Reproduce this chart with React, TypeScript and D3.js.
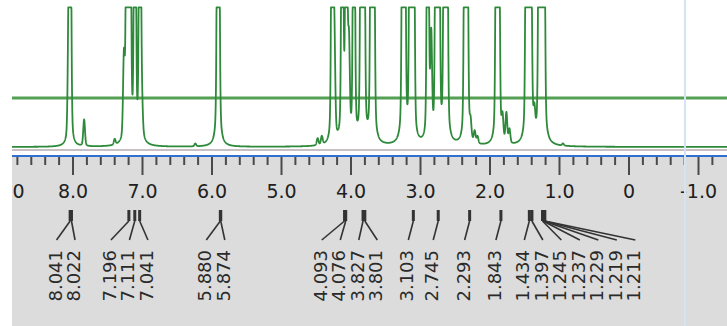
import * as d3 from 'd3';
import React from 'react';

// axis ticks (ppm) and their printed labels
const majorTicks = [9, 8, 7, 6, 5, 4, 3, 2, 1, 0, -1];
const majorLabels = ['9.0', '8.0', '7.0', '6.0', '5.0', '4.0', '3.0', '2.0', '1.0', '0', '-1.0'];

// spectrum lines: shift (ppm) and height (100 = top of window)
const peakShifts = [
  8.062, 8.04, 7.84, 7.40, 7.267, 7.224, 7.18, 7.109, 7.037, 7.009, 6.24,
  5.915, 5.905, 4.48, 4.42, 4.27, 4.24, 4.125, 4.068, 4.03, 3.958, 3.852, 3.815, 3.708, 3.675,
  3.254, 3.23, 3.148, 3.101, 2.895, 2.846, 2.775, 2.737, 2.655, 2.622,
  2.36, 2.33, 2.28, 2.22, 2.18, 1.905, 1.875, 1.82, 1.764, 1.72,
  1.475, 1.44, 1.41, 1.362, 1.29, 1.255, 1.225, 0.95
];
const peakHeights = [
  85, 260, 19, 4, 57, 300, 300, 300, 300, 22, 2,
  300, 200, 5, 6, 300, 70, 300, 300, 64, 300, 300, 300, 300, 300,
  300, 300, 300, 300, 300, 70, 300, 300, 300, 300,
  300, 250, 12, 8, 5, 300, 250, 16, 21, 10,
  300, 300, 150, 16, 300, 300, 300, 1.5
];

// picked peaks printed under the ruler
const pickedPeaks = [
  8.041, 8.022, 7.196, 7.111, 7.041, 5.880, 5.874,
  4.093, 4.076, 3.827, 3.801, 3.103, 2.745, 2.293, 1.843,
  1.434, 1.397, 1.245, 1.237, 1.229, 1.219, 1.211
];

const width = 727;
const height = 326;
const left = 12;

export default function App() {
  const x = d3.scaleLinear().domain([8, 0]).range([73, 629]);
  const y = d3.scaleLinear().domain([0, 100]).range([147, 8]);

  // trace: pseudo-voigt lines, flattened where it leaves the window
  const sigma = 0.012;
  const gamma = 0.02;
  const eta = 0.18;
  const grid = d3.range(9.3, -1.7, -0.002);
  const trace = grid.map((p) => {
    let v = 0;
    peakShifts.forEach((c, i) => {
      const d = p - c;
      const g = Math.exp(-(d * d) / (2 * sigma * sigma));
      const l = (gamma * gamma) / (d * d + gamma * gamma);
      v += peakHeights[i] * ((1 - eta) * g + eta * l);
    });
    return [p, Math.min(v, 100.5)] as [number, number];
  });
  const line = d3.line<[number, number]>()
    .x((d) => x(d[0]))
    .y((d) => y(d[1]));

  const minorTicks = d3.range(9.2, -1.4, -0.2).filter((t) => Math.abs(t - Math.round(t)) > 0.01);

  // label layout: groups of crowded labels are centred, pushed right if they collide
  const spacing = 18.5;
  const desired = pickedPeaks.map((p) => x(p));
  const groups: number[][] = [];
  desired.forEach((d, i) => {
    const g = groups[groups.length - 1];
    if (g && d - desired[g[g.length - 1]] < spacing) g.push(i);
    else groups.push([i]);
  });
  const anchors: number[] = [];
  let prevLast = -Infinity;
  groups.forEach((g) => {
    const mean = d3.mean(g, (i) => desired[i]) as number;
    let start = mean - ((g.length - 1) * spacing) / 2;
    if (start < prevLast + spacing) start = Math.max(desired[g[0]], prevLast + spacing);
    g.forEach((i, k) => { anchors[i] = start + k * spacing; });
    prevLast = anchors[g[g.length - 1]];
  });

  return (
    <svg width={width} height={height} style={{ position: 'absolute', left: 0, top: 0 }}
      fontFamily="DejaVu Sans, Verdana, sans-serif">
      <defs>
        <clipPath id="area">
          <rect x={left} y={0} width={width - left} height={height} />
        </clipPath>
      </defs>
      <rect x={0} y={0} width={width} height={height} fill="#ffffff" />
      <g clipPath="url(#area)">
        {/* ruler background */}
        <rect x={left} y={157} width={width - left} height={height - 157} fill="#dcdcdc" />

        {/* zero line and integral line */}
        <line x1={left} x2={width} y1={150} y2={150} stroke="#b4aab0" strokeWidth={1.5} />
        <line x1={left} x2={width} y1={98} y2={98} stroke="#55a055" strokeWidth={3} />

        {/* spectrum */}
        <path d={line(trace) || ''} fill="none" stroke="#2e8a3a" strokeWidth={1.8} strokeLinejoin="round" />

        {/* axis */}
        <line x1={left} x2={width} y1={156} y2={156} stroke="#2f6fd0" strokeWidth={2} />
        {minorTicks.map((t) => (
          <line key={'m' + t} x1={x(t)} x2={x(t)} y1={157} y2={165} stroke="#4a4a4a" strokeWidth={2} />
        ))}
        {majorTicks.map((t, i) => (
          <g key={'M' + t}>
            <line x1={x(t)} x2={x(t)} y1={157} y2={175} stroke="#4a4a4a" strokeWidth={2} />
            <text x={x(t) + (t === 9 ? 6 : 0)} y={198} textAnchor="middle" fontSize={19} fill="#202020">{majorLabels[i]}</text>
          </g>
        ))}

        {/* picked peak labels */}
        {pickedPeaks.map((p, i) => (
          <g key={'p' + i}>
            <line x1={x(p)} x2={x(p)} y1={210} y2={221} stroke="#333" strokeWidth={3} />
            <line x1={x(p)} x2={anchors[i] - 5} y1={221} y2={240} stroke="#333" strokeWidth={1.6} />
            <text transform={`translate(${anchors[i]},250) rotate(-90)`} textAnchor="end"
              fontSize={18} fill="#2a2a2a">{p.toFixed(3)}</text>
          </g>
        ))}
      </g>
      {/* window edge */}
      <line x1={685} x2={685} y1={0} y2={height} stroke="#d4e4f4" strokeWidth={2} />
    </svg>
  );
}
